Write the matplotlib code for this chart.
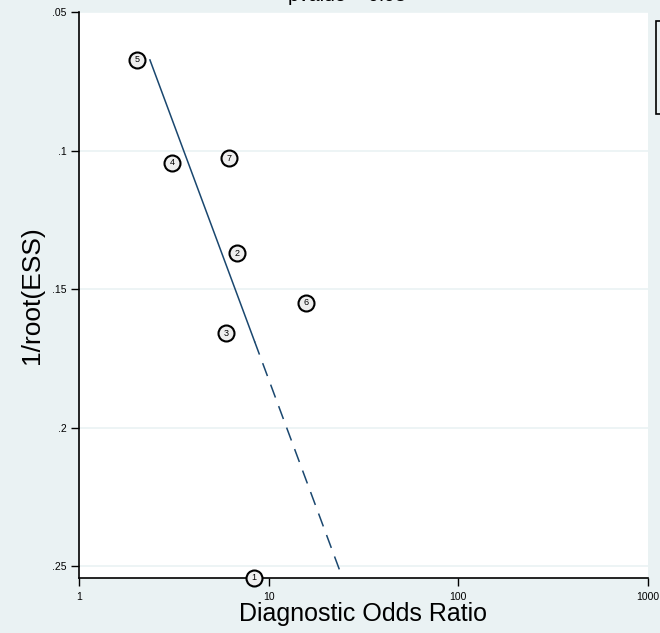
import matplotlib
matplotlib.use("Agg")
import matplotlib.pyplot as plt
from matplotlib.patches import Rectangle
import numpy as np

plt.rcParams['font.family'] = ['Liberation Sans', 'DejaVu Sans']

# Study data (diagnostic odds ratio, 1/root(ESS))
study_ids = ["1", "2", "3", "4", "5", "6", "7"]
dor = [8.34, 6.78, 5.94, 3.09, 2.02, 15.7, 6.16]
inv_root_ess = [0.2543, 0.137, 0.1659, 0.1045, 0.0673, 0.155, 0.1027]

# Regression line: log10(DOR) = a + b * (1/root(ESS))
reg_a = 0.374 - 5.43 * 0.0673
reg_b = 5.43
reg_solid_y = [0.0673, 0.169]
reg_dash_y = [0.169, 0.2543]

title_text = "pvalue = 0.93"
yticks = [0.05, 0.10, 0.15, 0.20, 0.25]
ytick_labels = [".05", ".1", ".15", ".2", ".25"]
xticks = [1, 10, 100, 1000]
xtick_labels = ["1", "10", "100", "1000"]

bg = "#EAF2F3"
line_col = "#1a476f"

fig = plt.figure(figsize=(6.6, 6.33), dpi=100, facecolor=bg)
ax = fig.add_axes([79/660, 1-578/633, (648-79)/660, (578-12)/633])
ax.set_facecolor("white")

ax.set_xscale("log")
ax.set_xlim(1, 1000)
ax.set_ylim(0.2543, 0.05)

for yv in yticks:
    ax.axhline(yv, color=bg, lw=1.2, zorder=1)

ys = np.array(reg_solid_y)
ax.plot(10 ** (reg_a + reg_b * ys), ys, color=line_col, lw=1.1, zorder=2)
yd = np.array(reg_dash_y)
ax.plot(10 ** (reg_a + reg_b * yd), yd, color=line_col, lw=1.1,
        dashes=(9, 6), zorder=2)

for sid, x, y in zip(study_ids, dor, inv_root_ess):
    ax.plot([x], [y], marker="o", ms=11.5, mfc="#efefef", mec="black",
            mew=1.5, ls="none", clip_on=False, zorder=4)
    ax.text(x, y, sid, ha="center", va="center", fontsize=6.5,
            zorder=5, clip_on=False)

ax.set_yticks(yticks)
ax.set_yticklabels(ytick_labels)
ax.set_xticks(xticks)
ax.set_xticklabels(xtick_labels)
ax.xaxis.set_minor_locator(matplotlib.ticker.NullLocator())
ax.tick_params(axis="both", direction="out", length=6, width=1,
               labelsize=7.5, color="black")
ax.tick_params(axis="y", pad=3)
ax.tick_params(axis="x", pad=4)

for s in ["top", "right"]:
    ax.spines[s].set_visible(False)
for s in ["left", "bottom"]:
    ax.spines[s].set_linewidth(1.2)

ax.set_xlabel("Diagnostic Odds Ratio", fontsize=18, labelpad=0)
ax.set_ylabel("1/root(ESS)", fontsize=19, labelpad=6)

fig.text(0.525, 1 - 5/633, title_text, ha="center", va="bottom", fontsize=14)

fig.patches.append(Rectangle((656/660, 1-114/633), 0.05, 93/633,
                             transform=fig.transFigure, facecolor=bg,
                             edgecolor="black", lw=1.2))

fig.savefig("out.png", dpi=100, facecolor=bg)
